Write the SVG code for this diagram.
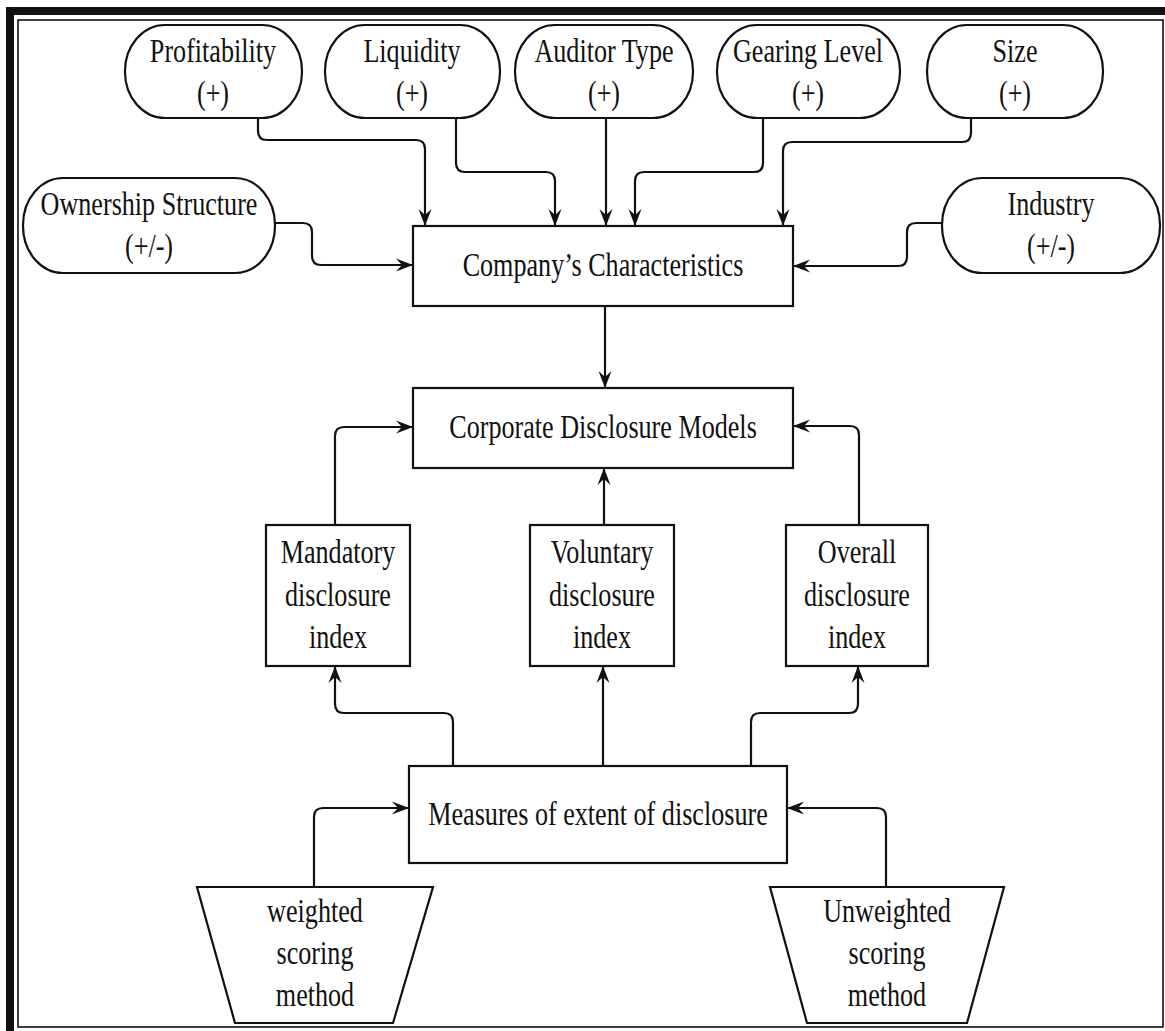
<svg xmlns="http://www.w3.org/2000/svg" width="1165" height="1031" viewBox="0 0 1165 1031">
<style>
.shape{fill:#fff;stroke:#111;stroke-width:2.2}
.conn{fill:none;stroke:#111;stroke-width:2.2}
.t{font-family:"Liberation Serif","Times New Roman",serif;font-size:33.5px;fill:#111;text-anchor:middle}
</style>
<defs>
<marker id="ah" markerUnits="userSpaceOnUse" markerWidth="24" markerHeight="20" viewBox="-20 -10 24 20" refX="0" refY="0" orient="auto">
<path d="M0,0 L-17,-6.5 L-11,0 L-17,6.5 Z" fill="#111"/>
</marker>
</defs>
<rect x="0" y="0" width="1165" height="1031" fill="#fff"/>
<g id="frame">
<line x1="6" y1="11" x2="1165" y2="11" stroke="#111" stroke-width="8"/>
<line x1="10" y1="7" x2="10" y2="1031" stroke="#111" stroke-width="8"/>
<rect x="18" y="20" width="1145" height="1007" fill="none" stroke="#111" stroke-width="1.6"/>
</g>
<g id="connectors">
<path class="conn" marker-end="url(#ah)" d="M258,118 V131 Q258,140 267,140 H416 Q425,140 425,149 V226"/>
<path class="conn" marker-end="url(#ah)" d="M456,118 V163 Q456,172 465,172 H546 Q555,172 555,181 V226"/>
<path class="conn" marker-end="url(#ah)" d="M606,118 V226"/>
<path class="conn" marker-end="url(#ah)" d="M763,118 V163 Q763,172 754,172 H644 Q635,172 635,181 V226"/>
<path class="conn" marker-end="url(#ah)" d="M971,118 V133 Q971,142 962,142 H792 Q783,142 783,151 V226"/>
<path class="conn" marker-end="url(#ah)" d="M275,223 H303 Q312,223 312,232 V256 Q312,265 321,265 H413"/>
<path class="conn" marker-end="url(#ah)" d="M942,223 H916 Q907,223 907,232 V257 Q907,266 898,266 H793"/>
<path class="conn" marker-end="url(#ah)" d="M605,306 V388"/>
<path class="conn" marker-end="url(#ah)" d="M335,525 V436 Q335,427 344,427 H413"/>
<path class="conn" marker-end="url(#ah)" d="M604,525 V468"/>
<path class="conn" marker-end="url(#ah)" d="M859,525 V435 Q859,426 850,426 H793"/>
<path class="conn" marker-end="url(#ah)" d="M453,766 V722 Q453,713 444,713 H344 Q335,713 335,704 V666"/>
<path class="conn" marker-end="url(#ah)" d="M603,766 V666"/>
<path class="conn" marker-end="url(#ah)" d="M751,766 V722 Q751,713 760,713 H849 Q858,713 858,704 V666"/>
<path class="conn" marker-end="url(#ah)" d="M314,887 V817 Q314,808 323,808 H409"/>
<path class="conn" marker-end="url(#ah)" d="M886,887 V817 Q886,808 877,808 H787"/>
</g>
<g id="profitability">
<rect class="shape" x="125" y="25" width="177" height="93" rx="40" ry="46"/>
<text class="t" transform="translate(213 0) scale(0.78 1)"><tspan x="0" y="62">Profitability</tspan><tspan x="0" y="104">(+)</tspan></text>
</g>
<g id="liquidity">
<rect class="shape" x="325" y="25" width="175" height="93" rx="40" ry="46"/>
<text class="t" transform="translate(412 0) scale(0.78 1)"><tspan x="0" y="62">Liquidity</tspan><tspan x="0" y="104">(+)</tspan></text>
</g>
<g id="auditor-type">
<rect class="shape" x="515" y="25" width="178" height="93" rx="40" ry="46"/>
<text class="t" transform="translate(604 0) scale(0.78 1)"><tspan x="0" y="62">Auditor Type</tspan><tspan x="0" y="104">(+)</tspan></text>
</g>
<g id="gearing-level">
<rect class="shape" x="717" y="25" width="183" height="93" rx="40" ry="46"/>
<text class="t" transform="translate(808 0) scale(0.78 1)"><tspan x="0" y="62">Gearing Level</tspan><tspan x="0" y="104">(+)</tspan></text>
</g>
<g id="size">
<rect class="shape" x="927" y="25" width="176" height="93" rx="40" ry="46"/>
<text class="t" transform="translate(1015 0) scale(0.78 1)"><tspan x="0" y="62">Size</tspan><tspan x="0" y="104">(+)</tspan></text>
</g>
<g id="ownership-structure">
<rect class="shape" x="23" y="178" width="252" height="95" rx="40" ry="47"/>
<text class="t" transform="translate(149 0) scale(0.78 1)"><tspan x="0" y="215">Ownership Structure</tspan><tspan x="0" y="257">(+/-)</tspan></text>
</g>
<g id="industry">
<rect class="shape" x="942" y="178" width="218" height="95" rx="40" ry="47"/>
<text class="t" transform="translate(1051 0) scale(0.78 1)"><tspan x="0" y="215">Industry</tspan><tspan x="0" y="257">(+/-)</tspan></text>
</g>
<g id="company-characteristics">
<rect class="shape" x="413" y="226" width="380" height="80"/>
<text class="t" transform="translate(603 276) scale(0.78 1)">Company’s Characteristics</text>
</g>
<g id="corporate-disclosure-models">
<rect class="shape" x="413" y="388" width="380" height="80"/>
<text class="t" transform="translate(603 438) scale(0.78 1)">Corporate Disclosure Models</text>
</g>
<g id="mandatory-index">
<rect class="shape" x="266" y="525" width="144" height="141"/>
<text class="t" transform="translate(338 0) scale(0.78 1)"><tspan x="0" y="563">Mandatory</tspan><tspan x="0" y="606">disclosure</tspan><tspan x="0" y="648">index</tspan></text>
</g>
<g id="voluntary-index">
<rect class="shape" x="530" y="525" width="144" height="141"/>
<text class="t" transform="translate(602 0) scale(0.78 1)"><tspan x="0" y="563">Voluntary</tspan><tspan x="0" y="606">disclosure</tspan><tspan x="0" y="648">index</tspan></text>
</g>
<g id="overall-index">
<rect class="shape" x="786" y="525" width="142" height="141"/>
<text class="t" transform="translate(857 0) scale(0.78 1)"><tspan x="0" y="563">Overall</tspan><tspan x="0" y="606">disclosure</tspan><tspan x="0" y="648">index</tspan></text>
</g>
<g id="measures-extent">
<rect class="shape" x="409" y="766" width="378" height="97"/>
<text class="t" transform="translate(598 825) scale(0.78 1)">Measures of extent of disclosure</text>
</g>
<g id="weighted-scoring">
<polygon class="shape" points="197,887 433,887 393,1023 235,1023"/>
<text class="t" transform="translate(315 0) scale(0.78 1)"><tspan x="0" y="922">weighted</tspan><tspan x="0" y="964">scoring</tspan><tspan x="0" y="1006">method</tspan></text>
</g>
<g id="unweighted-scoring">
<polygon class="shape" points="770,887 1004,887 967,1023 807,1023"/>
<text class="t" transform="translate(887 0) scale(0.78 1)"><tspan x="0" y="922">Unweighted</tspan><tspan x="0" y="964">scoring</tspan><tspan x="0" y="1006">method</tspan></text>
</g>
</svg>
